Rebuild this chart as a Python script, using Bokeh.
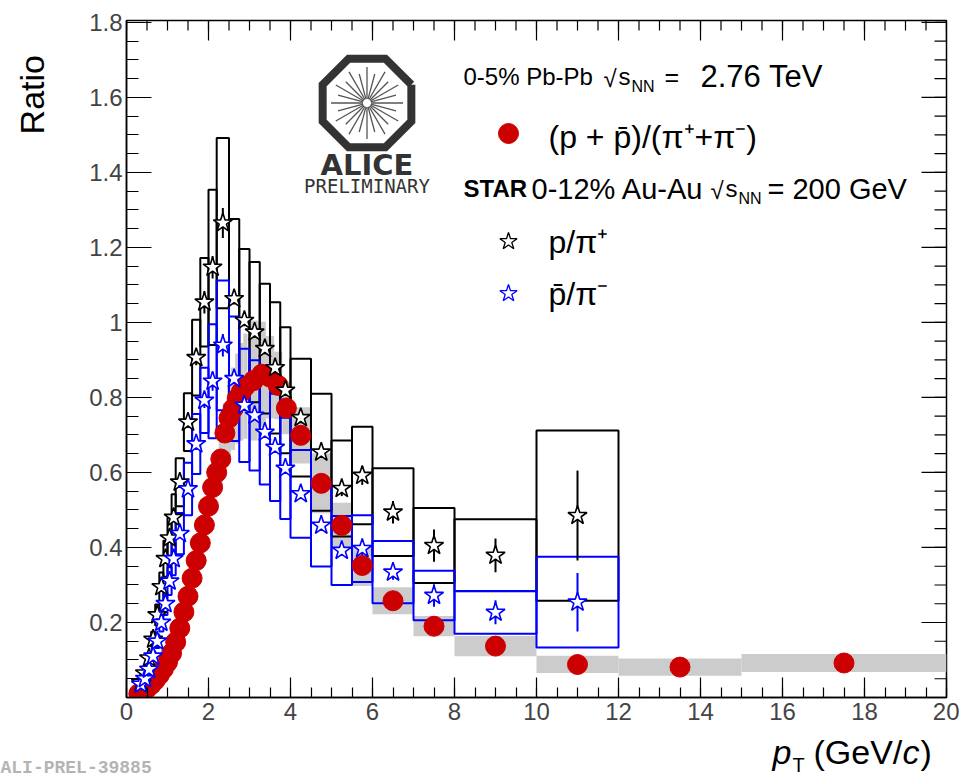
import numpy as np
from bokeh.plotting import figure
from bokeh.models import Range1d, FixedTicker, Label
from bokeh.layouts import column, row
from bokeh.embed import file_html
from bokeh.resources import INLINE

# ---------------- data ----------------
# ALICE 0-5% Pb-Pb (p+pbar)/(pi+ + pi-)
alice_pt = [0.3, 0.4, 0.5, 0.6, 0.7, 0.8, 0.9, 1.0, 1.1, 1.2, 1.3, 1.4, 1.5, 1.6, 1.7, 1.8, 1.9,
            2.0, 2.1, 2.2, 2.3, 2.4, 2.5, 2.6, 2.7, 2.8, 2.9,
            3.1, 3.3, 3.5, 3.7, 3.9,
            4.25, 4.75, 5.25, 5.75, 6.5, 7.5, 9.0, 11.0, 13.5, 17.5]
alice_halfwidth = [0.05] * 27 + [0.1] * 5 + [0.25] * 4 + [0.5, 0.5, 1.0, 1.0, 1.5, 2.5]
alice_ratio = [0.010, 0.016, 0.024, 0.034, 0.046, 0.060, 0.076, 0.094, 0.118, 0.148, 0.185, 0.228,
               0.270, 0.318, 0.365, 0.412, 0.460, 0.510, 0.560, 0.600, 0.636, 0.705, 0.745, 0.770,
               0.797, 0.815, 0.830,
               0.845, 0.862, 0.854, 0.832, 0.772,
               0.699, 0.571, 0.459, 0.352, 0.258, 0.190, 0.137, 0.088, 0.081, 0.092]
alice_sys = [0.001, 0.0015, 0.002, 0.003, 0.004, 0.005, 0.006, 0.008, 0.010, 0.012, 0.015, 0.018,
             0.022, 0.025, 0.029, 0.033, 0.037, 0.045, 0.050, 0.060, 0.070, 0.080, 0.100, 0.110,
             0.120, 0.130, 0.140,
             0.160, 0.140, 0.110, 0.090, 0.070,
             0.075, 0.080, 0.060, 0.055, 0.036, 0.027, 0.027, 0.023, 0.023, 0.024]

# STAR 0-12% Au-Au bins
star_lo = [0.3, 0.4, 0.5, 0.6, 0.7, 0.8, 0.9, 1.0, 1.1, 1.2, 1.4, 1.6, 1.8, 2.0, 2.2, 2.5, 2.75,
           3.0, 3.25, 3.5, 3.75, 4.0, 4.5, 5.0, 5.5, 6.0, 7.0, 8.0, 10.0]
star_hi = [0.4, 0.5, 0.6, 0.7, 0.8, 0.9, 1.0, 1.1, 1.2, 1.4, 1.6, 1.8, 2.0, 2.2, 2.5, 2.75, 3.0,
           3.25, 3.5, 3.75, 4.0, 4.5, 5.0, 5.5, 6.0, 7.0, 8.0, 10.0, 12.0]
# p/pi+
ppos_ratio = [0.040, 0.065, 0.105, 0.155, 0.220, 0.295, 0.370, 0.425, 0.480, 0.574, 0.734, 0.906,
              1.054, 1.147, 1.265, 1.063, 1.005, 0.974, 0.930, 0.879, 0.819, 0.746, 0.654, 0.557,
              0.592, 0.494, 0.405, 0.379, 0.485]
ppos_stat = [0.003, 0.004, 0.005, 0.006, 0.007, 0.008, 0.009, 0.010, 0.010, 0.012, 0.015, 0.020,
             0.030, 0.030, 0.040, 0.015, 0.015, 0.015, 0.015, 0.015, 0.015, 0.015, 0.015, 0.020,
             0.025, 0.030, 0.043, 0.045, 0.120]
ppos_sys = [0.005, 0.008, 0.013, 0.020, 0.028, 0.038, 0.048, 0.055, 0.062, 0.064, 0.077, 0.101,
            0.118, 0.207, 0.227, 0.213, 0.191, 0.187, 0.173, 0.175, 0.168, 0.157, 0.156, 0.128,
            0.130, 0.117, 0.100, 0.096, 0.227]
# pbar/pi-
pneg_ratio = [0.035, 0.050, 0.075, 0.110, 0.150, 0.200, 0.250, 0.310, 0.370, 0.437, 0.556, 0.676,
              0.792, 0.843, 0.939, 0.850, 0.779, 0.752, 0.707, 0.667, 0.611, 0.543, 0.459, 0.392,
              0.397, 0.334, 0.272, 0.227, 0.254]
pneg_stat = [0.003, 0.003, 0.004, 0.005, 0.006, 0.007, 0.008, 0.009, 0.010, 0.011, 0.013, 0.016,
             0.020, 0.025, 0.030, 0.012, 0.012, 0.012, 0.012, 0.012, 0.012, 0.012, 0.012, 0.015,
             0.018, 0.020, 0.030, 0.032, 0.078]
pneg_sys = [0.004, 0.006, 0.009, 0.013, 0.018, 0.024, 0.030, 0.037, 0.044, 0.055, 0.070, 0.080,
            0.087, 0.152, 0.173, 0.166, 0.151, 0.147, 0.139, 0.143, 0.135, 0.117, 0.110, 0.092,
            0.089, 0.083, 0.066, 0.057, 0.121]

x_ticks = [0, 2, 4, 6, 8, 10, 12, 14, 16, 18, 20]
y_ticks = [0.2, 0.4, 0.6, 0.8, 1.0, 1.2, 1.4, 1.6, 1.8]

# ---------------- layout geometry (canvas pixels) ----------------
W, H = 959, 778
STRIP_W = 60           # left strip holding the y title
MAIN_H = 731           # main figure height; the strip below holds the x title and the tag
FOOT_H = H - MAIN_H
MAIN_W = W - STRIP_W
FL, FR, FT, FB = 126, 946, 20, 697   # frame edges in canvas pixels
XMAX, YMAX = 20.0, 1.805
FONT = "Liberation Sans"

p = figure(width=MAIN_W, height=MAIN_H, x_range=Range1d(0, XMAX), y_range=Range1d(0, YMAX),
           output_backend="svg", toolbar_location=None, title=None,
           min_border_left=FL - STRIP_W, min_border_right=W - FR, min_border_top=FT,
           min_border_bottom=MAIN_H - FB)
p.grid.visible = False
p.outline_line_color = "black"
p.outline_line_width = 1.5
p.background_fill_color = "white"
p.border_fill_color = "white"

sx = (FR - FL) / XMAX
sy = (FB - FT) / YMAX


def X(px):
    return (px - FL) / sx


def Y(py):
    return (FB - py) / sy


x_minor = list(np.arange(0, 20.001, 0.5))
y_minor = list(np.arange(0, 1.8001, 0.05))
xt = FixedTicker(ticks=x_ticks, minor_ticks=x_minor)
yt = FixedTicker(ticks=y_ticks, minor_ticks=y_minor)

for ax in p.xaxis:
    ax.ticker = xt
    ax.major_tick_in, ax.major_tick_out = 20, 0
    ax.minor_tick_in, ax.minor_tick_out = 10, 0
    ax.major_label_standoff = 5
for ax in p.yaxis:
    ax.ticker = yt
    ax.major_tick_in, ax.major_tick_out = 25, 0
    ax.minor_tick_in, ax.minor_tick_out = 12, 0
    ax.major_label_standoff = 4
    ax.major_label_overrides = {1.0: "1"}
for ax in list(p.xaxis) + list(p.yaxis):
    ax.major_label_text_font = FONT
    ax.major_label_text_font_size = "24px"
    ax.axis_line_color = "black"
    ax.axis_line_width = 1.5
    ax.major_tick_line_color = "black"
    ax.minor_tick_line_color = "black"
    ax.major_tick_line_width = 1.2
    ax.minor_tick_line_width = 1.2

# ticks on the top and right frame edges (drawn from the tick arrays)
top_major = np.array(x_ticks, dtype=float)
top_minor = np.array(x_minor)
p.segment(top_major, YMAX, top_major, YMAX - 20 / sy, line_color="black", line_width=1.2)
p.segment(top_minor, YMAX, top_minor, YMAX - 10 / sy, line_color="black", line_width=1.2)
r_major = np.array(y_ticks)
r_minor = np.array(y_minor)
p.segment(XMAX, r_major, XMAX - 25 / sx, r_major, line_color="black", line_width=1.2)
p.segment(XMAX, r_minor, XMAX - 12 / sx, r_minor, line_color="black", line_width=1.2)

# ---------------- data marks ----------------
a_pt = np.array(alice_pt)
a_hw = np.array(alice_halfwidth)
a_r = np.array(alice_ratio)
a_s = np.array(alice_sys)
p.quad(left=a_pt - a_hw, right=np.minimum(a_pt + a_hw, XMAX), bottom=a_r - a_s, top=a_r + a_s,
       fill_color="#cccccc", line_color=None)

s_lo = np.array(star_lo)
s_hi = np.array(star_hi)
s_pt = (s_lo + s_hi) / 2
pp = np.array(ppos_ratio)
pn = np.array(pneg_ratio)
p.quad(left=s_lo, right=s_hi, bottom=pp - np.array(ppos_sys), top=pp + np.array(ppos_sys),
       fill_color=None, line_color="black", line_width=2)
p.quad(left=s_lo, right=s_hi, bottom=pn - np.array(pneg_sys), top=pn + np.array(pneg_sys),
       fill_color=None, line_color="#0000ff", line_width=2)

p.scatter(a_pt, a_r, marker="circle", size=20, fill_color="#cc0000", line_color="#cc0000")

p.segment(s_pt, pp - np.array(ppos_stat), s_pt, pp + np.array(ppos_stat), line_color="black", line_width=2)
p.segment(s_pt, pn - np.array(pneg_stat), s_pt, pn + np.array(pneg_stat), line_color="#0000ff", line_width=2)
p.scatter(s_pt, pp, marker="star", size=20, fill_color="white", line_color="black", line_width=1.6)
p.scatter(s_pt, pn, marker="star", size=20, fill_color="white", line_color="#0000ff", line_width=1.6)

# ---------------- legend ----------------
p.scatter([X(508)], [Y(133)], marker="circle", size=20, fill_color="#cc0000", line_color="#cc0000")
p.scatter([X(508)], [Y(241)], marker="star", size=18, fill_color="white", line_color="black", line_width=1.3)
p.scatter([X(508)], [Y(293)], marker="star", size=18, fill_color="white", line_color="#0000ff", line_width=1.3)


def txt(fig, xv, yv, text, size="24px", font=FONT, style="normal", color="black", align="left",
        baseline="middle", angle=0.0):
    fig.add_layout(Label(x=xv, y=yv, text=text, text_font=font, text_font_size=size,
                         text_font_style=style, text_color=color, text_align=align,
                         text_baseline=baseline, angle=angle))


def mtxt(px, py, text, **kw):
    txt(p, X(px), Y(py), text, **kw)


mtxt(463, 76, "0-5% Pb-Pb", size="24px")
mtxt(603, 78, "\u221a", size="24px")
mtxt(618, 76, "s", size="24px")
mtxt(631, 86, "NN", size="16px")
mtxt(664, 76, "=", size="25px")
mtxt(700, 76, "2.76 TeV", size="31px")
mtxt(548, 136, "(p + p\u0304)/(\u03c0\u207a+\u03c0\u207b)", size="32px")
mtxt(463, 188, "STAR", size="24px", style="bold")
mtxt(531, 188, "0-12% Au-Au", size="29px")
mtxt(710, 190, "\u221a", size="24px")
mtxt(725, 188, "s", size="24px")
mtxt(738, 198, "NN", size="16px")
mtxt(767, 188, "= 200 GeV", size="29px")
mtxt(548, 241, "p/\u03c0\u207a", size="32px")
mtxt(548, 293, "p\u0304/\u03c0\u207b", size="32px")

# ---------------- ALICE logo ----------------
cx, cy = 366.5, 102.5
rad = 48.0
ang = np.deg2rad(22.5 + 45 * np.arange(9))
p.line([X(cx + rad * np.cos(a)) for a in ang], [Y(cy - rad * np.sin(a)) for a in ang],
       line_color="#333333", line_width=8, line_join="miter")
spk = np.deg2rad(np.arange(0, 360, 15))
spl = [36 if k % 2 == 0 else 30 for k in range(len(spk))]
p.segment([X(cx + 4 * np.cos(a)) for a in spk], [Y(cy - 4 * np.sin(a)) for a in spk],
          [X(cx + l * np.cos(a)) for a, l in zip(spk, spl)],
          [Y(cy - l * np.sin(a)) for a, l in zip(spk, spl)],
          line_color="#555555", line_width=1.3)
mtxt(cx, 164, "ALICE", size="29px", font="DejaVu Sans", style="bold", color="#333333", align="center")
mtxt(cx, 185, "PRELIMINARY", size="19px", font="DejaVu Sans Mono", color="#333333", align="center")


# ---------------- side strips for texts outside the frame ----------------
def strip(w, h):
    f = figure(width=w, height=h, x_range=Range1d(0, w), y_range=Range1d(0, h),
               x_axis_type=None, y_axis_type=None, output_backend="svg", toolbar_location=None,
               title=None, min_border=0, min_border_left=0, min_border_right=0,
               min_border_top=0, min_border_bottom=0)
    f.grid.visible = False
    f.outline_line_color = None
    f.background_fill_color = "white"
    f.border_fill_color = "white"
    return f


left = strip(STRIP_W, MAIN_H)
txt(left, 31, MAIN_H - 123, "Ratio", size="34px", angle=np.pi / 2)

foot = strip(W, FOOT_H)


def ftxt(px, py, text, **kw):
    txt(foot, px, H - py, text, **kw)


ftxt(772, 751, "p", size="34px", style="italic")
ftxt(792, 764, "T", size="20px")
ftxt(813, 751, "(GeV/", size="34px")
ftxt(902, 751, "c", size="34px", style="italic")
ftxt(920, 751, ")", size="34px")
ftxt(0, 767, "ALI-PREL-39885", size="18px", font="Liberation Mono", style="bold", color="#b4b4b4")

layout = column(row(left, p), foot)
open("out.html", "w").write(file_html(layout, INLINE))
